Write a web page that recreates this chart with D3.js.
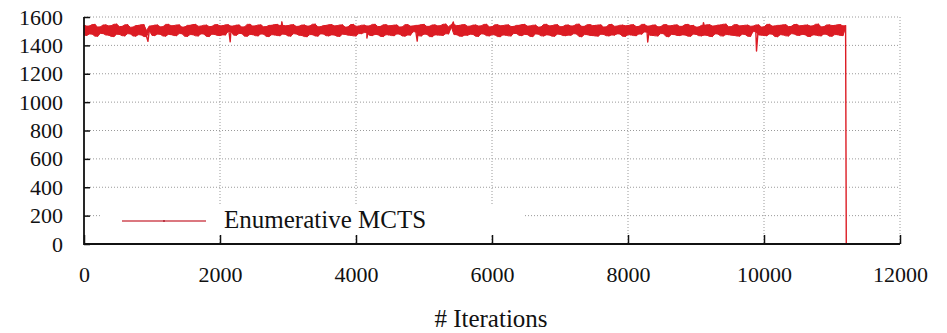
<!DOCTYPE html>
<html>
<head>
<meta charset="utf-8">
<script src="https://cdn.jsdelivr.net/npm/d3@7/dist/d3.min.js"></script>
<style>
  html, body { margin: 0; padding: 0; background: #fff; }
  svg { display: block; }
  text { font-family: "Liberation Serif", "Times New Roman", serif; fill: #111; }
</style>
</head>
<body>
<svg id="chart" width="947" height="333"></svg>
<script>
// Score of the best program found, sampled every `sampleStep` iterations
const sampleStep = 40;
const scores = [
  1542, 1471, 1536, 1480, 1547, 1465, 1530, 1484, 1544, 1473, 1538, 1463, 1549, 1478, 1533, 1468, 1545, 1482, 1528, 1466,
  1540, 1475, 1546, 1462, 1504, 1537, 1470, 1543, 1479, 1531, 1466, 1548, 1477, 1539, 1469, 1544, 1483, 1529, 1464, 1541,
  1476, 1547, 1467, 1535, 1481, 1542, 1463, 1533, 1478, 1546, 1470, 1538, 1474, 1545, 1498, 1536, 1472, 1543, 1484, 1530,
  1465, 1548, 1477, 1537, 1468, 1544, 1480, 1532, 1463, 1541, 1475, 1547, 1469, 1540, 1479, 1539, 1466, 1545, 1482, 1534,
  1471, 1543, 1462, 1536, 1476, 1549, 1466, 1531, 1481, 1540, 1468, 1546, 1474, 1538, 1464, 1544, 1478, 1529, 1472, 1547,
  1467, 1535, 1483, 1542, 1490, 1537, 1470, 1548, 1477, 1533, 1463, 1545, 1475, 1539, 1469, 1543, 1480, 1530, 1466, 1546,
  1473, 1536, 1496, 1541, 1467, 1547, 1479, 1534, 1462, 1544, 1474, 1538, 1471, 1549, 1482, 1532, 1546, 1476, 1540, 1465,
  1546, 1472, 1535, 1478, 1543, 1464, 1537, 1481, 1548, 1468, 1531, 1475, 1545, 1462, 1539, 1473, 1544, 1467, 1533, 1484,
  1541, 1470, 1547, 1477, 1536, 1463, 1542, 1480, 1529, 1467, 1548, 1474, 1538, 1465, 1545, 1479, 1532, 1469, 1543, 1472,
  1537, 1482, 1549, 1462, 1534, 1476, 1546, 1470, 1540, 1466, 1544, 1478, 1530, 1468, 1547, 1473, 1535, 1481, 1542, 1464,
  1539, 1475, 1545, 1469, 1533, 1480, 1548, 1494, 1536, 1471, 1543, 1467, 1531, 1483, 1546, 1462, 1538, 1477, 1544, 1470,
  1534, 1474, 1547, 1465, 1540, 1479, 1529, 1468, 1541, 1472, 1545, 1463, 1537, 1481, 1543, 1467, 1549, 1476, 1532, 1471,
  1546, 1466, 1538, 1478, 1542, 1464, 1535, 1497, 1544, 1473, 1530, 1469, 1548, 1480, 1536, 1462, 1541, 1475, 1545, 1467,
  1533, 1482, 1547, 1471, 1539, 1477, 1543, 1463, 1537, 1474, 1549, 1468, 1531, 1479, 1544, 1465, 1540, 1476, 1546, 1470,
  1538
];
// Isolated samples that fall out of the usual range
const outlierIterations = [940, 2150, 2910, 4160, 4900, 5430, 8290, 9110, 9890];
const outlierScores     = [1428, 1425, 1566, 1452, 1430, 1565, 1424, 1560, 1360];
// The run stops here and the score falls to zero
const endIteration = 11210;
const endScore = 0;

const xTicks = [0, 2000, 4000, 6000, 8000, 10000, 12000];
const yTicks = [0, 200, 400, 600, 800, 1000, 1200, 1400, 1600];
const seriesName = "Enumerative MCTS";
const xTitle = "# Iterations";

const regular = scores.map((s, i) => ({ it: i * sampleStep, score: s }));
const outliers = outlierIterations.map((it, i) => ({ it, score: outlierScores[i] }));
const allPoints = regular.concat(outliers).sort((a, b) => a.it - b.it);
allPoints.push({ it: endIteration, score: endScore });

const svg = d3.select("#chart");
const plot = { left: 84, right: 900, top: 17, bottom: 244 };

const x = d3.scaleLinear().domain([0, 12000]).range([plot.left, plot.right]);
const y = d3.scaleLinear().domain([0, 1600]).range([plot.bottom, plot.top]);

const red = "#dc1c24";

// dotted grid
const grid = svg.append("g");
grid.selectAll("line.gy").data(yTicks.filter(d => d > 0)).join("line")
  .attr("x1", plot.left).attr("x2", plot.right)
  .attr("y1", d => y(d)).attr("y2", d => y(d))
  .attr("stroke", "#9a9a9a").attr("stroke-width", 1).attr("stroke-dasharray", "1,2");
grid.selectAll("line.gx").data(xTicks.filter(d => d > 0)).join("line")
  .attr("y1", plot.top).attr("y2", plot.bottom)
  .attr("x1", d => x(d)).attr("x2", d => x(d))
  .attr("stroke", "#9a9a9a").attr("stroke-width", 1).attr("stroke-dasharray", "1,2");

// legend backdrop covers the grid beneath it
const legend = svg.append("g");
legend.append("rect")
  .attr("x", 100).attr("y", 205).attr("width", 425).attr("height", 30)
  .attr("fill", "#fff");

// envelope swept by consecutive regular samples (the dense band)
const envelope = d3.area()
  .x((d, i) => x(d.it))
  .y0((d, i) => y(Math.min(d.score, regular[Math.min(i + 1, regular.length - 1)].score)))
  .y1((d, i) => y(Math.max(d.score, regular[Math.min(i + 1, regular.length - 1)].score)));
svg.append("path")
  .datum(regular)
  .attr("fill", red)
  .attr("stroke", red)
  .attr("stroke-width", 1)
  .attr("d", envelope);

// full trace including outliers and the final drop
svg.append("path")
  .datum(allPoints)
  .attr("fill", "none")
  .attr("stroke", red)
  .attr("stroke-width", 1.4)
  .attr("stroke-linejoin", "round")
  .attr("d", d3.line().x(d => x(d.it)).y(d => y(d.score)));

// axes with inward ticks
const yAxis = d3.axisLeft(y).tickValues(yTicks).tickSize(-6).tickFormat(d3.format("d"));
const xAxis = d3.axisBottom(x).tickValues(xTicks).tickSize(-9).tickFormat(d3.format("d"));

const gy = svg.append("g").attr("transform", `translate(${plot.left},0)`).call(yAxis);
const gx = svg.append("g").attr("transform", `translate(0,${plot.bottom})`).call(xAxis);
[gy, gx].forEach(g => {
  g.select(".domain").remove();
  g.selectAll(".tick line").attr("stroke", "#111").attr("stroke-width", 1.5);
  g.selectAll(".tick text").attr("font-size", 22).attr("fill", "#111");
});
gy.selectAll(".tick text").attr("x", -21).attr("dy", "0.32em").attr("text-anchor", "end");
gx.selectAll(".tick text").attr("y", 38).attr("dy", 0).attr("text-anchor", "middle");

// left and bottom border
svg.append("path")
  .attr("d", `M${plot.left},${plot.top}V${plot.bottom}H${plot.right}`)
  .attr("fill", "none").attr("stroke", "#111").attr("stroke-width", 1.8);

// legend entry
legend.append("line")
  .attr("x1", 122).attr("x2", 206).attr("y1", 221).attr("y2", 221)
  .attr("stroke", "#cf4a55").attr("stroke-width", 1.3);
legend.append("circle")
  .attr("cx", 164).attr("cy", 221).attr("r", 1)
  .attr("fill", "#b02030");
legend.append("text")
  .attr("x", 224).attr("y", 228)
  .attr("font-size", 25)
  .text(seriesName);

// axis title
svg.append("text")
  .attr("x", 491).attr("y", 327)
  .attr("text-anchor", "middle")
  .attr("font-size", 25)
  .text(xTitle);
</script>
</body>
</html>
